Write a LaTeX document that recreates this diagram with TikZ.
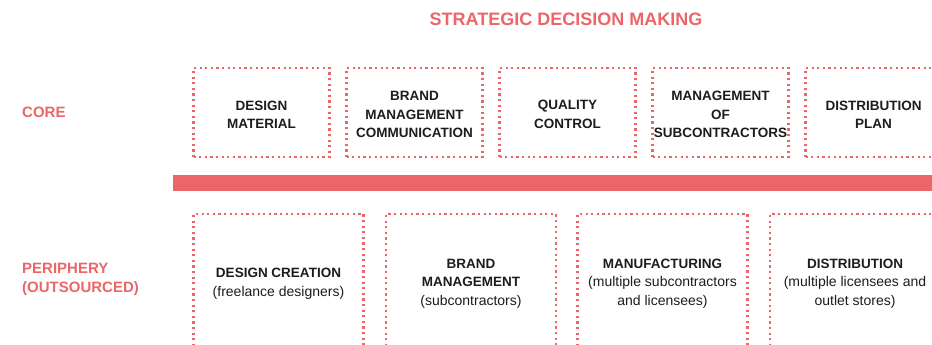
\documentclass[tikz,border=0pt]{standalone}
\usepackage{fontspec}
\setmainfont{Liberation Sans}
\definecolor{accent}{HTML}{EB6569}
\definecolor{ink}{HTML}{1C1C1C}
\newcommand{\note}[1]{{\fontsize{14}{18.5}\selectfont #1}}
\newcommand{\lift}{\rule{0pt}{13.5pt}}

\begin{document}
\begin{tikzpicture}[x=1pt,y=-1pt,font=\fontsize{13.5}{18.5}\selectfont]
    \tikzstyle{corebox}=[rectangle,draw=accent,line width=2.2pt,dash pattern=on 2.2pt off 3.4pt,minimum width=136pt,minimum height=89pt,text=ink,align=center,inner sep=0pt];
    \tikzstyle{peribox}=[corebox,minimum width=170pt,minimum height=135pt];
    \tikzstyle{sidelabel}=[text=accent,font=\fontsize{15}{19}\selectfont\bfseries,anchor=west,align=left,inner sep=0pt];
    \tikzstyle{spine}=[rectangle,fill=accent,minimum width=767pt,minimum height=15.5pt,inner sep=0pt];

    \useasboundingbox (0,0) rectangle (932,345);
    \clip (0,0) rectangle (932,345);

    \node[text=accent,font=\fontsize{18}{20}\selectfont\bfseries] (title) at (566,19.5) {STRATEGIC DECISION MAKING};

    \node[sidelabel] (corelabel) at (22,112) {CORE};
    \node[sidelabel] (perilabel) at (22,279.5) {PERIPHERY\\(OUTSOURCED)};

    % core activities
    \node[corebox] (design) at (261.5,112.5) {\lift\textbf{DESIGN}\\\textbf{MATERIAL}};
    \node[corebox] (brandcom) at (414.5,112.5) {\lift\textbf{BRAND}\\\textbf{MANAGEMENT}\\\textbf{COMMUNICATION}};
    \node[corebox] (quality) at (567.5,112.5) {\lift\textbf{QUALITY}\\\textbf{CONTROL}};
    \node[corebox] (mgmtsub) at (720.5,112.5) {\lift\textbf{MANAGEMENT}\\\textbf{OF}\\\textbf{SUBCONTRACTORS}};
    \node[corebox] (distplan) at (873.5,112.5) {\lift\textbf{DISTRIBUTION}\\\textbf{PLAN}};

    \node[spine] (divider) at (556.5,182.75) {};

    % outsourced activities
    \node[peribox] (creation) at (278.5,281.5) {\lift\textbf{DESIGN CREATION}\\\note{(freelance designers)}};
    \node[peribox] (brandmgmt) at (471,281.5) {\lift\textbf{BRAND}\\\textbf{MANAGEMENT}\\\note{(subcontractors)}};
    \node[peribox] (manuf) at (662.5,281.5) {\lift\textbf{MANUFACTURING}\\\note{(multiple subcontractors}\\\note{and licensees)}};
    \node[peribox] (distrib) at (855,281.5) {\lift\textbf{DISTRIBUTION}\\\note{(multiple licensees and}\\\note{outlet stores)}};
\end{tikzpicture}
\end{document}
